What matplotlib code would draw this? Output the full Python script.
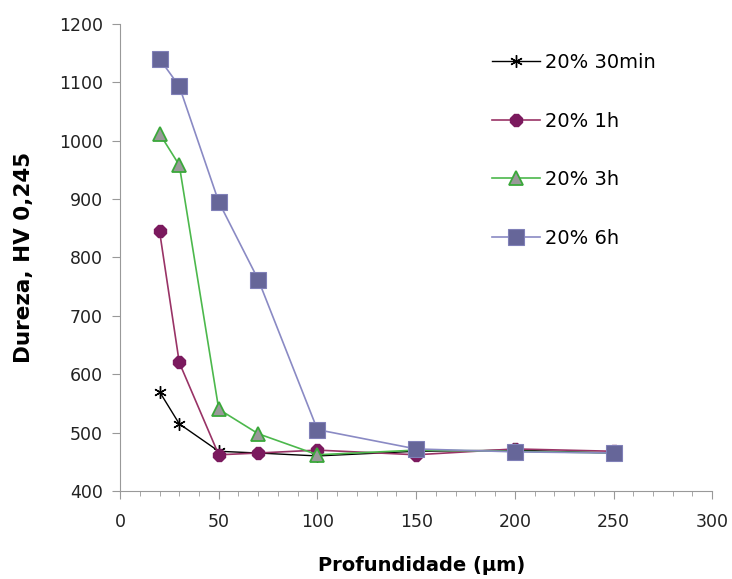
import matplotlib.pyplot as plt
from matplotlib.ticker import MultipleLocator

# Profundidade (um)
depth = [20, 30, 50, 70, 100, 150, 200, 250]

# Dureza HV 0,245 for each treatment
hv_30min = [570, 515, 468, 465, 460, 468, 470, 465]
hv_1h = [845, 620, 462, 465, 470, 462, 472, 468]
hv_3h = [1012, 958, 540, 498, 462, 470, 468, 465]
hv_6h = [1140, 1093, 895, 762, 505, 472, 467, 465]

labels = ['20% 30min', '20% 1h', '20% 3h', '20% 6h']

fig = plt.figure(figsize=(7.32, 5.79), dpi=100)
ax = fig.add_axes([0.164, 0.152, 0.809, 0.807])

ax.plot(depth, hv_30min, color='black', lw=1, marker=(6, 2, 0), ms=9,
        mew=1, label=labels[0])
ax.plot(depth, hv_1h, color='#993366', lw=1.2, marker='8', ms=9,
        mfc='#7b1a5e', mec='#7b1a5e', label=labels[1])
ax.plot(depth, hv_3h, color='#4cb84c', lw=1.2, marker='^', ms=10,
        mfc='#999999', mec='#3aa83a', mew=1.3, label=labels[2])
ax.plot(depth, hv_6h, color='#8a8ac4', lw=1.2, marker='s', ms=11,
        mfc='#666699', mec='#8080b8', mew=0.8, label=labels[3])

ax.set_xlim(0, 300)
ax.set_ylim(400, 1200)
ax.xaxis.set_major_locator(MultipleLocator(50))
ax.xaxis.set_minor_locator(MultipleLocator(10))
ax.yaxis.set_major_locator(MultipleLocator(100))

for s in ['top', 'right']:
    ax.spines[s].set_visible(False)
for s in ['left', 'bottom']:
    ax.spines[s].set_color('#999999')

ax.tick_params(axis='x', which='major', direction='out', length=5.5, color='#999999',
               labelsize=12.5, labelcolor='#222222', pad=10)
ax.tick_params(axis='x', which='minor', direction='out', length=3.5, color='#999999')
ax.tick_params(axis='y', which='major', direction='out', length=5.5, color='#999999',
               labelsize=12.5, labelcolor='#222222', pad=7)

ax.set_xlabel('Profundidade (µm)', fontsize=14, fontweight='bold')
ax.set_ylabel('Dureza, HV 0,245', fontsize=15.5, fontweight='bold')
ax.xaxis.set_label_coords(0.51, -0.14)
ax.yaxis.set_label_coords(-0.145, 0.5)

ax.legend(loc='upper left', bbox_to_anchor=(0.628, 0.937), frameon=False,
          fontsize=14, handlelength=2.47, labelspacing=2.03, handletextpad=0.26,
          borderpad=0, borderaxespad=0)

fig.savefig('out.png', dpi=100)
